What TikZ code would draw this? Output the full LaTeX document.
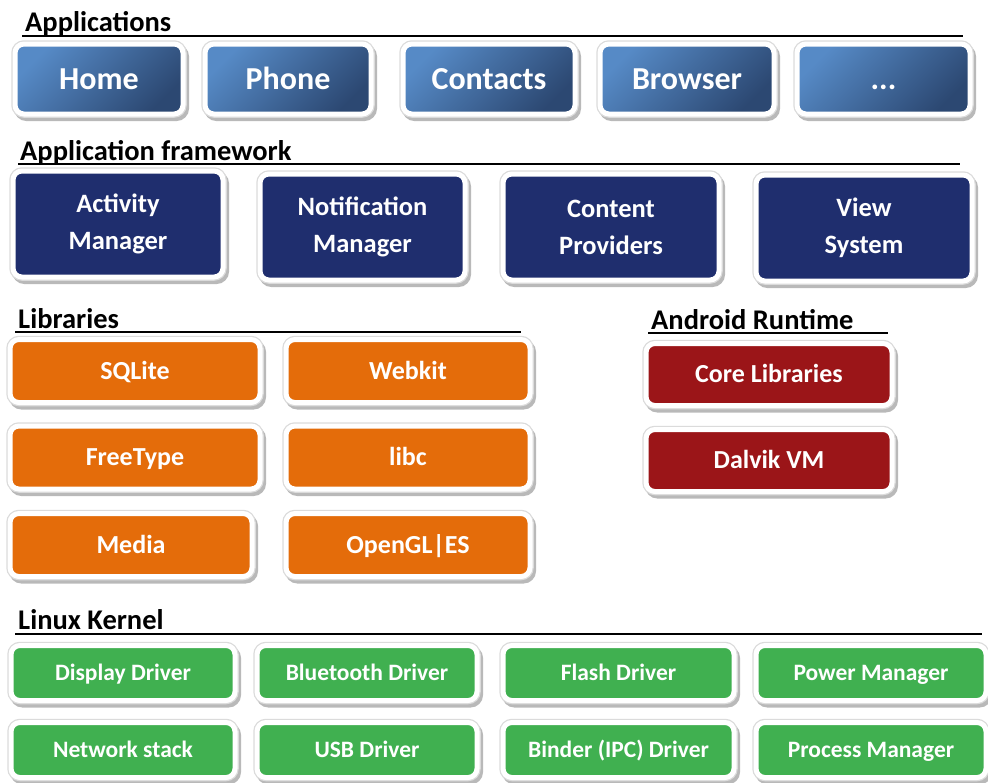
\documentclass[tikz,border=0pt]{standalone}
\usepackage{fontspec}
\setmainfont{Carlito}

\definecolor{appA}{RGB}{86,138,198}
\definecolor{appB}{RGB}{44,72,114}
\definecolor{frame}{RGB}{31,46,110}
\definecolor{lib}{RGB}{228,108,10}
\definecolor{rt}{RGB}{155,21,24}
\definecolor{kern}{RGB}{64,176,80}

\begin{document}
\begin{tikzpicture}[x=1pt, y=-1pt,
    box/.style={rounded corners=9pt, draw=white, line width=5pt, text=white, align=center, inner sep=0pt,
      preaction={draw=black!50, line width=7pt, opacity=0.55, transform canvas={shift={(2.5pt,-3.5pt)}}},
      preaction={draw=black!14, line width=7.5pt}},
    app/.style={box, top color=appA, bottom color=appB, shading angle=45, minimum height=70pt,
      text height=24pt, text depth=3.4pt, font=\bfseries\fontsize{32}{38}\selectfont},
    fw/.style={box, fill=frame, minimum height=106pt, font=\bfseries\fontsize{26.5}{37}\selectfont},
    lib/.style={box, fill=lib, minimum height=63pt,
      text height=19.5pt, text depth=2.8pt, font=\bfseries\fontsize{26}{30}\selectfont},
    rt/.style={box, fill=rt, minimum height=62pt,
      text height=19.5pt, text depth=2.8pt, font=\bfseries\fontsize{26}{30}\selectfont},
    kern/.style={box, fill=kern, minimum height=55pt,
      text height=17.6pt, text depth=2.5pt, font=\bfseries\fontsize{23.5}{28}\selectfont},
    head/.style={anchor=base west, inner sep=0pt, font=\bfseries\fontsize{28.5}{34}\selectfont},
    rule/.style={line width=1.6pt}]

    \useasboundingbox (0,0) rectangle (988,782);

    % Applications
    \node[head] (apps) at (25,31) {Applications};
    \draw[rule] (22,36) -- (963,36);
    \node[app, minimum width=168pt] (home) at (99,79) {Home};
    \node[app, minimum width=166pt] (phone) at (288,79) {Phone};
    \node[app, minimum width=172pt] (contacts) at (489,79) {Contacts};
    \node[app, minimum width=174pt] (browser) at (687,79) {Browser};
    \node[app, minimum width=173pt] (more) at (883.5,79) {...};

    % Application framework
    \node[head] (frame) at (20,160) {Application framework};
    \draw[rule] (18,164) -- (960,164);
    \node[fw, minimum width=210pt] (activity) at (118,224) {Activity\\Manager};
    \node[fw, minimum width=205pt] (notif) at (362.5,227) {Notification\\Manager};
    \node[fw, minimum width=216pt] (content) at (611,227) {Content\\Providers};
    \node[fw, minimum width=216pt] (view) at (864,228) {View\\System};

    % Libraries
    \node[head] (libs) at (18,328) {Libraries};
    \draw[rule] (15,332) -- (521,332);
    \node[lib, minimum width=250pt] (sqlite) at (135,371) {SQLite};
    \node[lib, minimum width=244pt] (webkit) at (408,371) {Webkit};
    \node[lib, minimum width=250pt] (freetype) at (135,457.5) {FreeType};
    \node[lib, minimum width=244pt] (libc) at (408,457.5) {libc};
    \node[lib, minimum width=242pt] (media) at (131,545) {Media};
    \node[lib, minimum width=244pt] (opengl) at (408,545) {OpenGL|ES};

    % Android Runtime
    \node[head] (runtime) at (651,329) {Android Runtime};
    \draw[rule] (648,333) -- (888,333);
    \node[rt, minimum width=246pt] (core) at (769,374.5) {Core Libraries};
    \node[rt, minimum width=246pt] (dalvik) at (769,460.5) {Dalvik VM};

    % Linux Kernel
    \node[head] (kernel) at (18,629) {Linux Kernel};
    \draw[rule] (15,634) -- (982,634);
    \node[kern, minimum width=224pt] (display) at (123,673) {Display Driver};
    \node[kern, minimum width=220pt] (bt) at (367,673) {Bluetooth Driver};
    \node[kern, minimum width=231pt] (flash) at (618.5,673) {Flash Driver};
    \node[kern, minimum width=230pt] (power) at (871,673) {Power Manager};
    \node[kern, minimum width=224pt] (net) at (123,750) {Network stack};
    \node[kern, minimum width=220pt] (usb) at (367,750) {USB Driver};
    \node[kern, minimum width=231pt] (binder) at (618.5,750) {Binder (IPC) Driver};
    \node[kern, minimum width=230pt] (process) at (871,750) {Process Manager};

\end{tikzpicture}
\end{document}
